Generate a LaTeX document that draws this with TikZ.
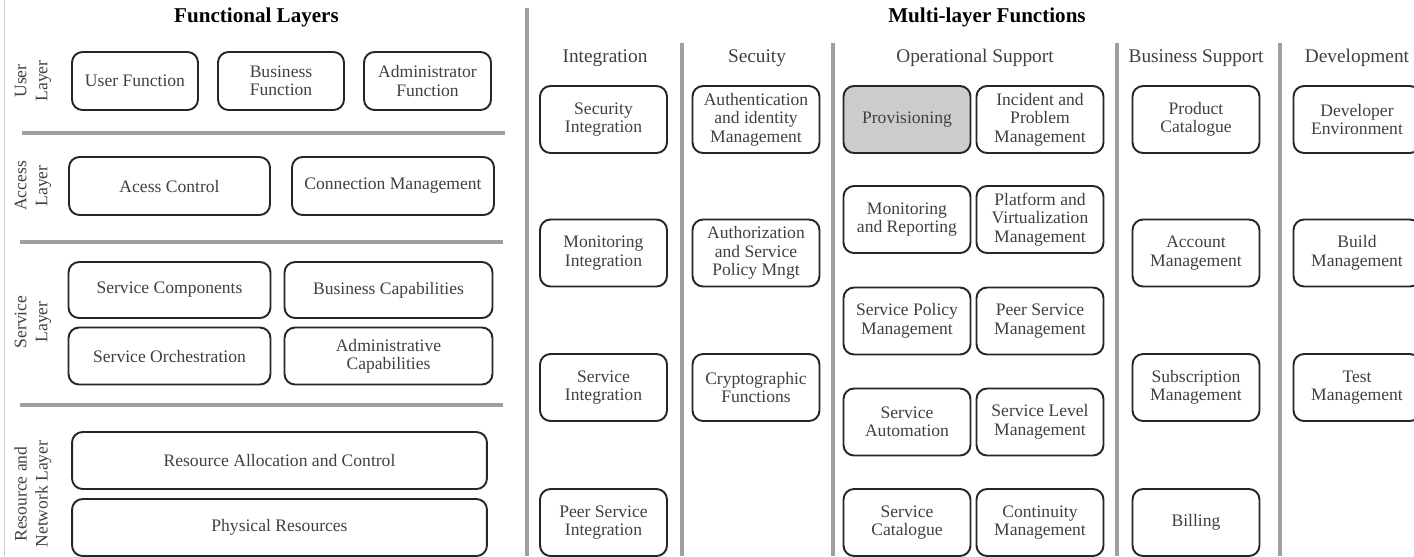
\documentclass[tikz,border=0pt]{standalone}
\usepackage{fontspec}
\setmainfont{Liberation Serif}

\tikzset{
    unit/.style={draw=black!85, line width=1.1pt, rounded corners=6pt, align=center, inner sep=1pt, text=black!75, font=\fontsize{10}{10.5}\selectfont},
    mfunit/.style={unit, minimum width=2.54cm, minimum height=1.34cm},
    divider/.style={draw=gray!75, line width=2.2pt},
    layername/.style={rotate=90, align=center, text=black!75, font=\fontsize{10}{12}\selectfont},
    colhead/.style={text=black!75, font=\fontsize{11}{13}\selectfont},
    paneltitle/.style={font=\bfseries\fontsize{12}{14}\selectfont},
}

\begin{document}
\begin{tikzpicture}[x=0.02cm, y=-0.02cm]

    \useasboundingbox (0,0) rectangle (1414,556);
    \clip (0,0) rectangle (1414,556);

    % outer edge and dividers
    \draw[gray!40, line width=0.8pt] (4.5,0) -- (4.5,556);
    \draw[divider] (22,133) -- (505,133) (20,242) -- (503,242) (20,405) -- (503,405);
    \draw[divider] (527,8) -- (527,556);
    \draw[divider] (682,43) -- (682,556) (833,43) -- (833,556) (1117,43) -- (1117,556) (1280,43) -- (1280,556);

    % titles
    \node[paneltitle] (fltitle) at (256.5,17) {Functional Layers};
    \node[paneltitle] (mltitle) at (987,17) {Multi-layer Functions};

    % functional layers
    \node[layername] (userlayer) at (33,81) {User\\Layer};
    \node[layername] (accesslayer) at (33,186) {Access\\Layer};
    \node[layername] (servicelayer) at (33,322) {Service\\Layer};
    \node[layername] (resourcelayer) at (33,494) {Resource and\\Network Layer};

    \node[unit, minimum width=2.52cm, minimum height=1.16cm] (userfn) at (135,81) {User Function};
    \node[unit, minimum width=2.52cm, minimum height=1.16cm] (bizfn) at (281,81) {Business\\Function};
    \node[unit, minimum width=2.54cm, minimum height=1.16cm] (adminfn) at (427.5,81) {Administrator\\Function};

    \node[unit, minimum width=4.02cm, minimum height=1.16cm] (accessctl) at (169.5,186) {Acess Control};
    \node[unit, minimum width=4.04cm, minimum height=1.16cm] (connmgmt) at (393,186) {Connection Management};

    \node[unit, minimum width=4.04cm, minimum height=1.12cm] (svccomp) at (169.5,290) {Service Components};
    \node[unit, minimum width=4.16cm, minimum height=1.12cm] (bizcap) at (388.5,290) {Business Capabilities};
    \node[unit, minimum width=4.04cm, minimum height=1.14cm] (svcorch) at (169.5,356) {Service Orchestration};
    \node[unit, minimum width=4.16cm, minimum height=1.14cm] (admincap) at (388.5,356) {Administrative\\Capabilities};

    \node[unit, minimum width=8.3cm, minimum height=1.14cm] (resalloc) at (279.5,460.5) {Resource Allocation and Control};
    \node[unit, minimum width=8.3cm, minimum height=1.14cm] (physres) at (279.5,527.5) {Physical Resources};

    % multi-layer functions: column heads
    \node[colhead] (integration) at (605,58) {Integration};
    \node[colhead] (secuity) at (757,58) {Secuity};
    \node[colhead] (opsupport) at (975,58) {Operational Support};
    \node[colhead] (bizsupport) at (1196,58) {Business Support};
    \node[colhead] (development) at (1357,58) {Development};

    % integration
    \node[mfunit] (secint) at (603.5,119.5) {Security\\Integration};
    \node[mfunit] (monint) at (603.5,253) {Monitoring\\Integration};
    \node[mfunit] (svcint) at (603.5,387.5) {Service\\Integration};
    \node[mfunit] (peerint) at (603.5,522.5) {Peer Service\\Integration};

    % secuity
    \node[mfunit] (authn) at (756,119.5) {Authentication\\and identity\\Management};
    \node[mfunit] (authz) at (756,253) {Authorization\\and Service\\Policy Mngt};
    \node[mfunit] (crypto) at (756,387.5) {Cryptographic\\Functions};

    % operational support
    \node[mfunit, fill=black!20] (prov) at (907,119.5) {Provisioning};
    \node[mfunit] (incident) at (1040,119.5) {Incident and\\Problem\\Management};
    \node[mfunit] (monrep) at (907,219.5) {Monitoring\\and Reporting};
    \node[mfunit] (platform) at (1040,219.5) {Platform and\\Virtualization\\Management};
    \node[mfunit] (svcpol) at (907,321) {Service Policy\\Management};
    \node[mfunit] (peermgmt) at (1040,321) {Peer Service\\Management};
    \node[mfunit] (svcauto) at (907,422) {Service\\Automation};
    \node[mfunit] (svclevel) at (1040,422) {Service Level\\Management};
    \node[mfunit] (svccat) at (907,522.5) {Service\\Catalogue};
    \node[mfunit] (contmgmt) at (1040,522.5) {Continuity\\Management};

    % business support
    \node[mfunit] (prodcat) at (1196,119.5) {Product\\Catalogue};
    \node[mfunit] (account) at (1196,253) {Account\\Management};
    \node[mfunit] (subscr) at (1196,387.5) {Subscription\\Management};
    \node[mfunit] (billing) at (1196,522.5) {Billing};

    % development
    \node[mfunit] (devenv) at (1357,119.5) {Developer\\Environment};
    \node[mfunit] (build) at (1357,253) {Build\\Management};
    \node[mfunit] (test) at (1357,387.5) {Test\\Management};

\end{tikzpicture}
\end{document}
